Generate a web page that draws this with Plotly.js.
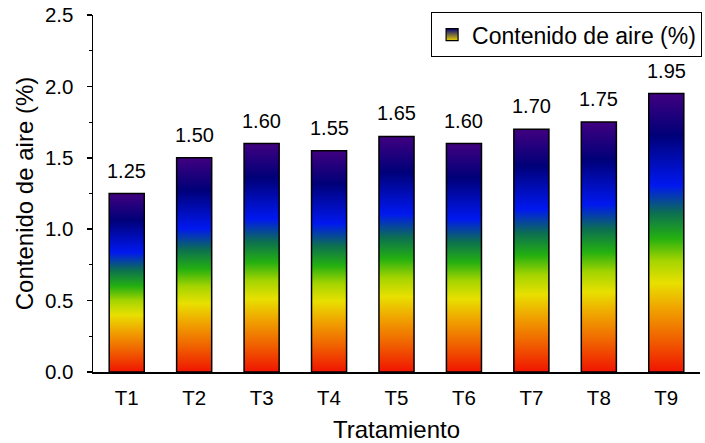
<!DOCTYPE html>
<html>
<head>
<meta charset="utf-8">
<script src="https://cdn.plot.ly/plotly-3.0.1.min.js"></script>
<style>
  html, body { margin: 0; padding: 0; background: #fff; }
  #chart { width: 705px; height: 443px; }
</style>
</head>
<body>
<div id="chart"></div>
<script>
// Air content per treatment
const treatments = ['T1', 'T2', 'T3', 'T4', 'T5', 'T6', 'T7', 'T8', 'T9'];
const airContent = [1.25, 1.50, 1.60, 1.55, 1.65, 1.60, 1.70, 1.75, 1.95];
const yTickValues = [0, 0.5, 1.0, 1.5, 2.0, 2.5];

// Spectrum used to fill each bar, bottom (red) to top (violet)
const spectrum = [
  [0.00, '#f01400'],
  [0.12, '#f06200'],
  [0.23, '#f0a400'],
  [0.32, '#e8e000'],
  [0.40, '#a4d400'],
  [0.48, '#24b010'],
  [0.57, '#0c7050'],
  [0.67, '#0018f0'],
  [0.85, '#000078'],
  [1.00, '#400080']
];

const FONT = 'Liberation Sans, Arial, sans-serif';
const halfWidth = 0.26;

const traces = [];
treatments.forEach((t, i) => {
  const v = airContent[i];
  traces.push({
    type: 'scatter',
    mode: 'lines',
    x: [i - halfWidth, i + halfWidth, i + halfWidth, i - halfWidth, i - halfWidth],
    y: [0, 0, v, v, 0],
    fill: 'toself',
    fillgradient: { type: 'vertical', colorscale: spectrum },
    line: { color: '#000', width: 1.5 },
    showlegend: false,
    hoverinfo: 'skip'
  });
});

// Legend entry for the series
traces.push({
  type: 'scatter',
  mode: 'markers',
  x: [null], y: [null],
  name: 'Contenido de aire (%)',
  marker: {
    symbol: 'square', size: 12, color: '#000080',
    gradient: { type: 'vertical', color: '#e8d000' },
    line: { color: '#000', width: 1.2 }
  },
  showlegend: true
});

const labels = treatments.map((t, i) => ({
  x: i, y: airContent[i], xref: 'x', yref: 'y',
  text: airContent[i].toFixed(2),
  showarrow: false, yanchor: 'bottom', yshift: 10,
  font: { family: FONT, size: 20, color: '#000' }
}));

const layout = {
  width: 705, height: 443,
  margin: { l: 93, r: 3, t: 15, b: 71 },
  paper_bgcolor: '#fff', plot_bgcolor: '#fff',
  font: { family: FONT, color: '#000' },
  showlegend: true,
  legend: {
    x: 0.557, xanchor: 'left', y: 1.008, yanchor: 'top',
    bordercolor: '#000', borderwidth: 1, bgcolor: '#fff',
    font: { family: FONT, size: 23, color: '#000' }
  },
  xaxis: {
    range: [-0.5, 8.5],
    tickvals: treatments.map((t, i) => i),
    ticktext: treatments,
    showline: true, linecolor: '#000', linewidth: 1.5,
    ticks: '', showgrid: false, zeroline: false,
    tickfont: { family: FONT, size: 20.5 },
    ticklabelstandoff: 7,
    title: { text: 'Tratamiento', font: { family: FONT, size: 24 }, standoff: 13 }
  },
  yaxis: {
    range: [0, 2.5],
    tickvals: yTickValues, tickformat: '.1f',
    showline: true, linecolor: '#000', linewidth: 1.5,
    ticks: 'outside', ticklen: 5, tickwidth: 1.5, tickcolor: '#000',
    minor: { dtick: 0.25, ticks: 'outside', ticklen: 3, tickwidth: 1, tickcolor: '#000' },
    showgrid: false, zeroline: false,
    tickfont: { family: FONT, size: 20.5 },
    ticklabelstandoff: 9,
    title: { text: 'Contenido de aire (%)', font: { family: FONT, size: 24 }, standoff: 4 }
  },
  annotations: labels
};

Plotly.newPlot('chart', traces, layout, { displayModeBar: false, staticPlot: true });
</script>
</body>
</html>
